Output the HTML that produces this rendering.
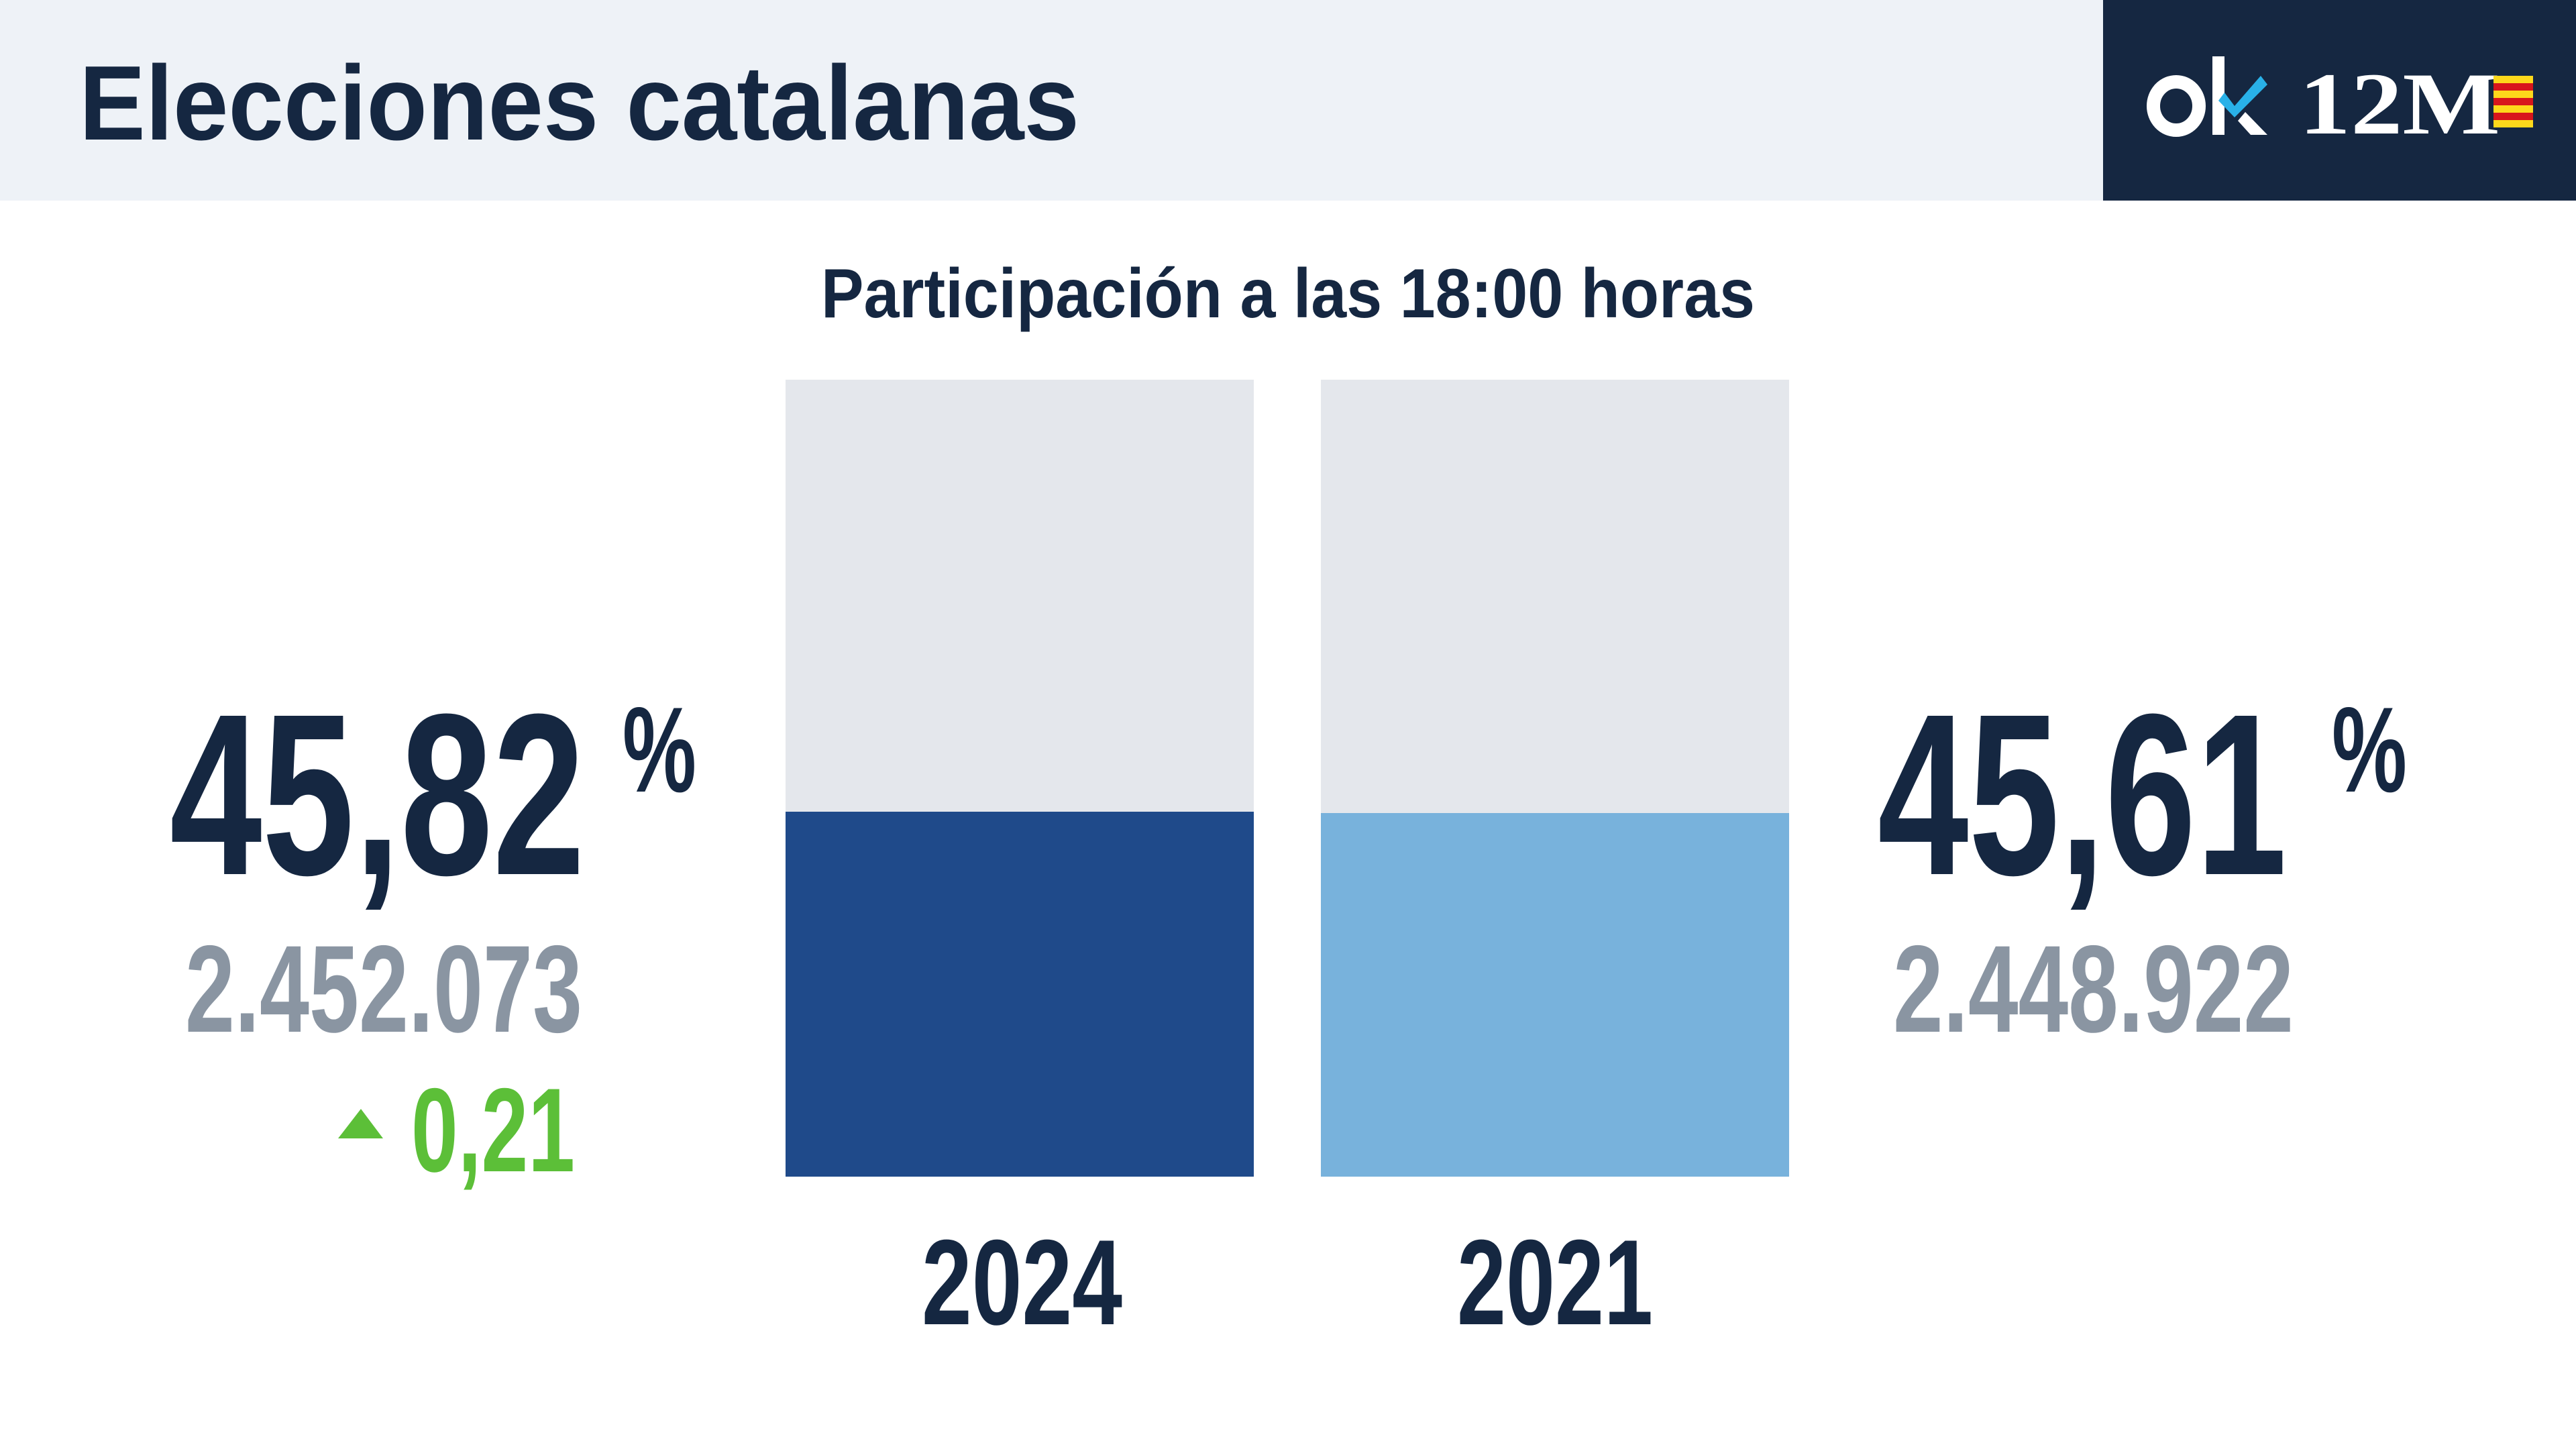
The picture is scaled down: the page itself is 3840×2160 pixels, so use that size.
<!DOCTYPE html>
<html><head><meta charset="utf-8"><style>html,body{margin:0;padding:0;background:#fff}svg{display:block}</style></head>
<body>
<svg width="3840" height="2160" viewBox="0 0 3840 2160" xmlns="http://www.w3.org/2000/svg" font-family="'Liberation Sans', sans-serif" font-weight="bold">
<rect x="0" y="0" width="3840" height="2160" fill="#fff"/>
<rect x="0" y="0" width="3840" height="299" fill="#eef2f7"/>
<rect x="3135" y="0" width="705" height="299" fill="#152741"/>
<text x="118" y="208" font-size="158" fill="#152741" textLength="1491" lengthAdjust="spacingAndGlyphs">Elecciones catalanas</text>
<!-- logo -->
<ellipse cx="3244" cy="158" rx="34" ry="36" fill="none" stroke="#fff" stroke-width="20"/>
<rect x="3298" y="84" width="18" height="117" fill="#fff"/>
<polygon points="3336,180 3347,167 3380,201 3355,201" fill="#fff"/>
<polygon points="3307,150 3316,138 3331,158 3370,113 3380,126 3331,175" fill="#29b1e8"/>
<text x="3427" y="199" font-family="'Liberation Serif', serif" font-size="132" fill="#fff" textLength="300" lengthAdjust="spacingAndGlyphs">12M</text>
<g>
<rect x="3717" y="113" width="59" height="11" fill="#fdd81b"/>
<rect x="3717" y="124" width="59" height="11" fill="#d8161c"/>
<rect x="3717" y="135" width="59" height="11" fill="#fdd81b"/>
<rect x="3717" y="146" width="59" height="11" fill="#d8161c"/>
<rect x="3717" y="157" width="59" height="11" fill="#fdd81b"/>
<rect x="3717" y="168" width="59" height="11" fill="#d8161c"/>
<rect x="3717" y="179" width="59" height="11" fill="#fdd81b"/>
</g>
<text x="1224" y="473" font-size="104" fill="#152741" textLength="1392" lengthAdjust="spacingAndGlyphs">Participación a las 18:00 horas</text>
<!-- bars -->
<rect x="1171" y="566" width="698" height="644" fill="#e4e7ec"/>
<rect x="1171" y="1210" width="698" height="544" fill="#1f4a8a"/>
<rect x="1969" y="566" width="698" height="646" fill="#e4e7ec"/>
<rect x="1969" y="1212" width="698" height="542" fill="#78b2dc"/>
<text x="1374" y="1974" font-size="181" fill="#152741" textLength="299" lengthAdjust="spacingAndGlyphs">2024</text>
<text x="2172" y="1974" font-size="181" fill="#152741" textLength="292" lengthAdjust="spacingAndGlyphs">2021</text>
<!-- left -->
<text x="253" y="1303" font-size="343" fill="#152741" textLength="619" lengthAdjust="spacingAndGlyphs">45,82</text>
<text x="928" y="1180" font-size="181" fill="#152741" textLength="110" lengthAdjust="spacingAndGlyphs">%</text>
<text x="276" y="1538" font-size="185" fill="#8a95a2" textLength="592" lengthAdjust="spacingAndGlyphs">2.452.073</text>
<polygon points="504,1697 571,1697 538,1653" fill="#5cbf38"/>
<text x="613" y="1746" font-size="178" fill="#5cbf38" textLength="244" lengthAdjust="spacingAndGlyphs">0,21</text>
<!-- right -->
<text x="2799" y="1303" font-size="343" fill="#152741" textLength="610" lengthAdjust="spacingAndGlyphs">45,61</text>
<text x="3476" y="1180" font-size="181" fill="#152741" textLength="112" lengthAdjust="spacingAndGlyphs">%</text>
<text x="2822" y="1538" font-size="185" fill="#8a95a2" textLength="597" lengthAdjust="spacingAndGlyphs">2.448.922</text>
</svg>
</body></html>
